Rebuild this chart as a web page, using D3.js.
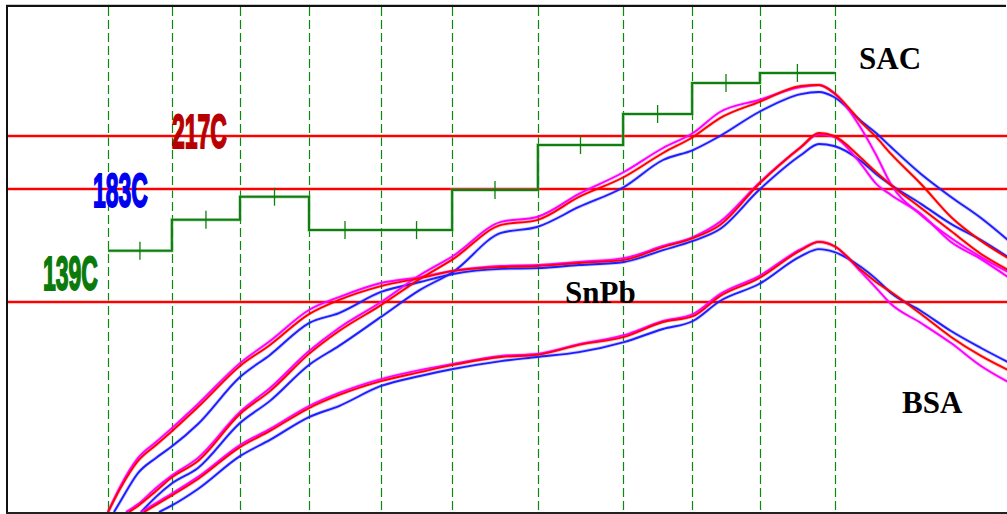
<!DOCTYPE html>
<html><head><meta charset="utf-8">
<script src="https://cdn.jsdelivr.net/npm/d3@7"></script>
<style>html,body{margin:0;padding:0;background:#fff;overflow:hidden}</style>
</head><body>
<svg id="chart" width="1007" height="514"></svg>
<script>
// ---- data (time in s, temperature in °C) ----
const zoneBounds = [0, 21.3, 44, 67, 91, 114.7, 143.3, 171.7, 194.7, 217.3, 242.3];
const zoneSetpoints = [159, 171, 180, 167, 167, 182.6, 211.2, 231.1, 251, 257.4];
const liquidus = [217, 183, 139];
const liquidusLabels = ["217C", "183C", "139C"];
const alloyNames = ["SAC", "SnPb", "BSA"];

const snpbMagenta = [[0,57.2],[4,67.0],[10,78.3],[16,84.5],[21,89.6],[30,99.3],[44,115.2],[54,123.8],[67,135.9],[77,140.9],[91,146.4],[104,148.7],[115,151.1],[131,153.0],[143,153.4],[157,154.6],[172,156.1],[185,160.8],[195,164.3],[204,170.2],[217,186.8],[231,209.9],[237,218.3],[242,216.4],[251,199.0],[256,186.5],[261,180.7],[271,173.3],[281,162.4],[291,155.7],[300,148.7]];
const snpbRed = [[0,57.2],[4,66.2],[10,77.1],[16,83.3],[21,88.4],[30,98.1],[44,114.1],[54,122.3],[67,134.3],[77,139.8],[91,145.2],[104,148.3],[115,151.1],[131,152.6],[143,153.0],[157,154.2],[172,155.4],[185,160.4],[195,163.9],[204,169.0],[217,186.2],[231,209.9],[237,218.9],[242,217.0],[251,202.9],[256,193.9],[261,185.6],[271,175.6],[281,166.6],[291,157.7],[300,151.5]];
const snpbBlue = [[2,57.2],[4,61.1],[10,72.4],[16,78.3],[21,82.5],[30,91.5],[44,109.8],[54,118.4],[67,130.8],[77,134.7],[91,142.9],[104,146.8],[115,149.9],[131,151.9],[143,152.2],[157,153.4],[172,154.6],[185,159.2],[195,162.8],[204,167.4],[217,182.6],[231,204.8],[237,211.9],[242,210.6],[251,201.0],[256,192.6],[261,185.6],[271,177.2],[281,169.4],[291,163.1],[300,156.5]];

const sacMagenta = [[6,57.2],[10,60.3],[16,66.6],[21,71.2],[30,78.3],[44,96.2],[54,105.5],[67,119.9],[77,128.9],[91,139.0],[104,149.5],[115,156.9],[131,170.2],[143,172.1],[157,181.1],[172,193.9],[185,209.3],[195,218.9],[204,232.4],[217,240.1],[231,248.4],[237,249.7],[242,244.6],[251,222.0],[256,205.0],[261,186.0],[271,172.9],[281,163.9],[291,156.5],[300,150.7]];
const sacRed = [[7,57.2],[10,59.6],[16,65.4],[21,70.5],[30,77.1],[44,95.4],[54,104.3],[67,118.8],[77,127.7],[91,137.8],[104,148.0],[115,155.7],[131,169.0],[143,170.9],[157,179.9],[172,190.7],[185,206.1],[195,216.4],[204,228.5],[217,238.8],[231,249.1],[237,249.7],[242,244.6],[251,226.0],[256,216.4],[261,205.5],[271,186.2],[281,172.1],[291,162.8],[300,156.1]];
const sacBlue = [[11,57.2],[16,63.1],[21,68.1],[30,74.4],[44,91.9],[54,100.5],[67,114.5],[77,121.9],[91,133.2],[104,143.7],[115,150.7],[131,165.9],[143,168.2],[157,176.0],[172,184.3],[185,201.6],[195,208.0],[204,217.0],[217,232.4],[231,243.9],[237,245.2],[242,242.0],[251,226.6],[256,218.9],[261,209.9],[271,192.6],[281,179.9],[291,171.7],[300,163.1]];

const bsaMagenta = [[11,57.2],[16,60.7],[21,64.2],[30,70.9],[44,83.3],[54,89.6],[67,98.5],[77,103.6],[91,109.0],[104,112.5],[115,114.9],[131,118.0],[143,118.8],[157,122.6],[172,126.1],[185,131.6],[195,134.3],[204,142.1],[217,149.1],[231,159.6],[237,162.4],[242,160.8],[251,150.7],[256,144.5],[261,138.2],[271,130.8],[281,123.0],[291,114.1],[300,107.9]];
const bsaRed = [[12,57.2],[16,60.0],[21,63.5],[30,70.1],[44,82.5],[54,88.8],[67,97.7],[77,102.8],[91,108.2],[104,111.7],[115,114.5],[131,117.6],[143,118.4],[157,122.3],[172,125.4],[185,131.2],[195,133.5],[204,141.3],[217,148.3],[231,159.2],[237,162.4],[242,160.8],[251,151.5],[256,146.8],[261,142.9],[271,134.3],[281,125.4],[291,118.0],[300,112.5]];
const bsaBlue = [[17,57.2],[21,59.6],[30,66.2],[44,79.0],[54,85.3],[67,94.2],[77,98.5],[91,106.3],[104,110.2],[115,112.9],[131,116.0],[143,117.6],[157,119.5],[172,123.4],[185,128.5],[195,131.6],[204,139.4],[217,146.0],[231,156.9],[237,159.6],[242,158.5],[251,152.6],[256,148.0],[261,142.5],[271,135.5],[281,127.7],[291,121.1],[300,115.6]];

// ---- layout ----
const svg = d3.select("#chart");
const plot = {left: 8, top: 7, right: 1007, bottom: 512};

const x = d3.scaleLinear().domain([0, 300]).range([108, 1008]);
const y = d3.scaleLinear().domain([139, 183, 217]).range([302, 189, 136]);

svg.append("defs").append("clipPath").attr("id", "clip")
  .append("rect").attr("x", plot.left).attr("y", plot.top)
  .attr("width", plot.right - plot.left).attr("height", plot.bottom - plot.top);

const g = svg.append("g").attr("clip-path", "url(#clip)");

// zone boundaries (dashed green)
g.selectAll("line.zone").data(zoneBounds).join("line")
  .attr("x1", d => Math.round(x(d)) + 0.5).attr("x2", d => Math.round(x(d)) + 0.5)
  .attr("y1", plot.top).attr("y2", plot.bottom)
  .attr("stroke", "#0a8a0a").attr("stroke-width", 1.2).attr("stroke-dasharray", "9,4");

// liquidus red lines
liquidus.forEach(v => {
  g.append("line").attr("x1", plot.left).attr("x2", plot.right)
    .attr("y1", y(v)).attr("y2", y(v))
    .attr("stroke", "#ff9a9a").attr("stroke-width", 4).attr("opacity", 0.6);
  g.append("line").attr("x1", plot.left).attr("x2", plot.right)
    .attr("y1", y(v)).attr("y2", y(v))
    .attr("stroke", "#ff0000").attr("stroke-width", 2);
});

// zone setpoint step line
const stepPts = zoneSetpoints.map((v, i) => [zoneBounds[i], v]);
stepPts.push([zoneBounds[zoneBounds.length - 1], zoneSetpoints[zoneSetpoints.length - 1]]);
const stepLine = d3.line().x(d => x(d[0])).y(d => y(d[1])).curve(d3.curveStepAfter);
g.append("path").attr("d", stepLine(stepPts)).attr("fill", "none")
  .attr("stroke", "#6fb36f").attr("stroke-width", 3.5).attr("opacity", 0.5);
g.append("path").attr("d", stepLine(stepPts)).attr("fill", "none")
  .attr("stroke", "#0f7f0f").attr("stroke-width", 2);
// mid-zone ticks
g.selectAll("line.tick").data(zoneSetpoints).join("line")
  .attr("x1", (d, i) => x((zoneBounds[i] + zoneBounds[i + 1]) / 2))
  .attr("x2", (d, i) => x((zoneBounds[i] + zoneBounds[i + 1]) / 2))
  .attr("y1", d => y(d) - 9).attr("y2", d => y(d) + 9)
  .attr("stroke", "#0f7f0f").attr("stroke-width", 1.3);

// profile curves
const line = d3.line().x(d => x(d[0])).y(d => y(d[1])).curve(d3.curveMonotoneX);
const curves = [
  [snpbBlue, "#1e1eff"], [sacBlue, "#1e1eff"], [bsaBlue, "#1e1eff"],
  [snpbMagenta, "#ff00ff"], [sacMagenta, "#ff00ff"], [bsaMagenta, "#ff00ff"],
  [snpbRed, "#ff0000"], [sacRed, "#ff0000"], [bsaRed, "#ff0000"]
];
curves.forEach(([data, color]) => {
  g.append("path").attr("d", line(data)).attr("fill", "none")
    .attr("stroke", color).attr("stroke-width", 3.6).attr("opacity", 0.22)
    .attr("stroke-linejoin", "round");
});
curves.forEach(([data, color]) => {
  g.append("path").attr("d", line(data)).attr("fill", "none")
    .attr("stroke", color).attr("stroke-width", 1.9)
    .attr("stroke-linejoin", "round");
});

// liquidus labels
const labelColors = ["#b80000", "#0000f0", "#0a7a0a"];
const labelPos = [[172, 148], [93, 207], [43, 290]];
liquidusLabels.forEach((t, i) => {
  svg.append("text")
    .attr("transform", `translate(${labelPos[i][0]},${labelPos[i][1]}) scale(1,2.08)`)
    .attr("font-family", "Liberation Sans, Arial, sans-serif")
    .attr("font-weight", "bold").attr("font-size", 23)
    .attr("fill", labelColors[i])
    .attr("stroke", labelColors[i]).attr("stroke-width", 0.9)
    .text(t);
});

// alloy labels
const alloyPos = [[859, 69], [565, 303], [902, 413]];
alloyNames.forEach((t, i) => {
  svg.append("text").attr("x", alloyPos[i][0]).attr("y", alloyPos[i][1])
    .attr("font-family", "Liberation Serif, Times New Roman, serif")
    .attr("font-weight", "bold").attr("font-size", 31)
    .attr("fill", "#000").text(t);
});

// frame
svg.append("line").attr("x1", 6).attr("x2", 1006).attr("y1", 4.5).attr("y2", 4.5)
  .attr("stroke", "#c8c8c8").attr("stroke-width", 1);
svg.append("line").attr("x1", 6).attr("x2", 1006).attr("y1", 6).attr("y2", 6)
  .attr("stroke", "#111").attr("stroke-width", 2);
svg.append("line").attr("x1", 7).attr("x2", 7).attr("y1", 5).attr("y2", 514)
  .attr("stroke", "#111").attr("stroke-width", 2);
svg.append("line").attr("x1", 6).attr("x2", 1007).attr("y1", 513).attr("y2", 513)
  .attr("stroke", "#222").attr("stroke-width", 2);
</script>
</body></html>
